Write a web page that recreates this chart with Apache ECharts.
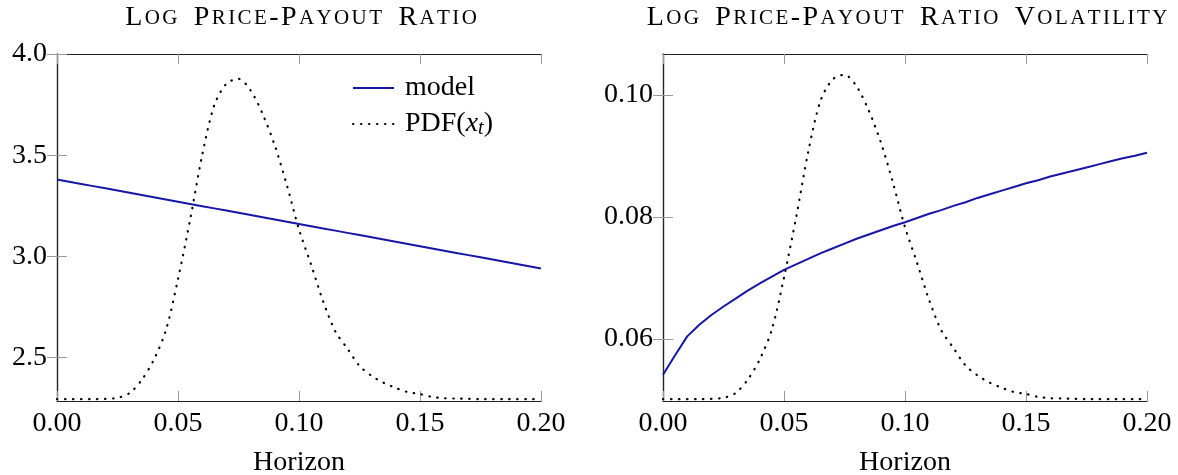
<!DOCTYPE html>
<html lang="en">
<head>
    <meta charset="UTF-8">
    <title>Log Price-Payout Ratio</title>
    <style>
        body { margin: 0; background: #fff; }
        #main { width: 1178px; height: 475px; }
    </style>
    <script src="https://cdn.jsdelivr.net/npm/echarts@6/dist/echarts.min.js"></script>
</head>
<body>
<div id="main"></div>
<script>
    // horizon grid shared by every curve
    var horizon = [0.000, 0.005, 0.010, 0.015, 0.020, 0.025, 0.030, 0.035, 0.040, 0.045,
        0.050, 0.055, 0.060, 0.065, 0.070, 0.075, 0.080, 0.085, 0.090, 0.095,
        0.100, 0.105, 0.110, 0.115, 0.120, 0.125, 0.130, 0.135, 0.140, 0.145,
        0.150, 0.155, 0.160, 0.165, 0.170, 0.175, 0.180, 0.185, 0.190, 0.195, 0.200];

    // log price-payout ratio (model)
    var ratioModel = [3.380, 3.369, 3.358, 3.347, 3.336, 3.325, 3.314, 3.303, 3.292, 3.281,
        3.270, 3.259, 3.248, 3.237, 3.226, 3.215, 3.204, 3.193, 3.182, 3.171,
        3.160, 3.149, 3.138, 3.127, 3.116, 3.105, 3.094, 3.083, 3.072, 3.061,
        3.050, 3.039, 3.028, 3.017, 3.006, 2.995, 2.984, 2.973, 2.962, 2.951, 2.940];

    // volatility of the log price-payout ratio (model)
    var volModel = [0.0541, 0.0573, 0.0604, 0.0623, 0.0639, 0.0653, 0.0666, 0.0679, 0.0691, 0.0702,
        0.0713, 0.0722, 0.0731, 0.0740, 0.0748, 0.0756, 0.0764, 0.0771, 0.0778, 0.0785,
        0.0791, 0.0798, 0.0805, 0.0811, 0.0818, 0.0824, 0.0831, 0.0837, 0.0843, 0.0849,
        0.0855, 0.0860, 0.0866, 0.0871, 0.0876, 0.0881, 0.0886, 0.0891, 0.0896, 0.0900, 0.0905];

    // density of x_t, as a share of its peak
    var pdfShape = [0, 0, 0, 0, 0.001, 0.004, 0.019, 0.060, 0.123, 0.215,
        0.375, 0.560, 0.762, 0.918, 0.985, 1.000, 0.964, 0.890, 0.792, 0.668,
        0.530, 0.420, 0.305, 0.212, 0.158, 0.104, 0.073, 0.051, 0.035, 0.022,
        0.016, 0.007, 0.003, 0.002, 0.001, 0, 0, 0, 0, 0, 0];

    // where the density is drawn on each panel: [floor, peak]
    var pdfLeft = [2.294, 3.877];
    var pdfRight = [0.0501, 0.1033];

    var yTicksLeft = [2.5, 3.0, 3.5, 4.0];
    var yTicksRight = [0.06, 0.08, 0.10];

    var titles = ['Log Price-Payout Ratio', 'Log Price-Payout Ratio Volatility'];

    var FONT = '"Liberation Serif", "DejaVu Serif", serif';
    var BLUE = '#1616a6';

    function pairs(ys) {
        return horizon.map(function (x, i) { return [x, ys[i]]; });
    }
    function pdfPairs(level) {
        return horizon.map(function (x, i) {
            return [x, level[0] + pdfShape[i] * (level[1] - level[0])];
        });
    }
    // small caps: capitals stay big, lower case is set as smaller capitals
    function smallCaps(str) {
        return str.split('').map(function (c) {
            if (c === ' ') return '{w|\u2002}';
            if (c === c.toLowerCase() && c !== c.toUpperCase()) return '{s|' + c.toUpperCase() + '}';
            return '{b|' + c + '}';
        }).join('');
    }

    var lineAxis = {show: true, lineStyle: {color: '#222', width: 1.2}};
    var tickStyle = {show: true, inside: true, length: 10, lineStyle: {color: '#999', width: 1}};
    var labelText = {color: '#000', fontSize: 28, fontFamily: FONT};

    function xAx(grid, top) {
        return {
            type: 'value', gridIndex: grid, position: top ? 'top' : 'bottom',
            min: 0, max: 0.2, interval: 0.05,
            axisLine: lineAxis, axisTick: tickStyle, splitLine: {show: false},
            axisLabel: top ? {show: false} : Object.assign({
                margin: 9,
                formatter: function (v) { return v.toFixed(2); }
            }, labelText),
            name: top ? '' : 'Horizon',
            nameLocation: 'middle', nameGap: 48,
            nameTextStyle: labelText
        };
    }
    function yAx(grid, right, min, max, ticks, digits) {
        return {
            type: 'value', gridIndex: grid, position: right ? 'right' : 'left',
            min: min, max: max,
            axisLine: lineAxis,
            axisTick: Object.assign({customValues: ticks}, tickStyle),
            splitLine: {show: false},
            axisLabel: right ? {show: false} : Object.assign({
                margin: 10, customValues: ticks,
                formatter: function (v) { return v.toFixed(digits); }
            }, labelText)
        };
    }

    var capsRich = {
        b: {fontSize: 28, fontFamily: FONT, fontWeight: 'normal', color: '#000', padding: [0, 1.2, 0, 1.2]},
        s: {fontSize: 21, fontFamily: FONT, fontWeight: 'normal', color: '#000', padding: [0, 1.2, 0, 1.2]},
        w: {fontSize: 28, fontFamily: FONT, fontWeight: 'normal', color: '#000'}
    };

    var chart = echarts.init(document.getElementById('main'));
    var option = {
        animation: false,
        backgroundColor: '#fff',
        title: [
            {
                text: smallCaps(titles[0]),
                left: 301, top: 4, textAlign: 'center', padding: 0,
                textStyle: {fontWeight: 'normal', rich: capsRich}
            },
            {
                text: smallCaps(titles[1]),
                left: 907, top: 4, textAlign: 'center', padding: 0,
                textStyle: {fontWeight: 'normal', rich: capsRich}
            }
        ],
        legend: {
            data: ['model', 'PDF'],
            orient: 'vertical',
            left: 352, top: 73,
            itemWidth: 41, itemHeight: 14, itemGap: 6,
            padding: 0,
            itemStyle: {opacity: 0},
            textStyle: {
                color: '#000', fontSize: 28, fontFamily: FONT, lineHeight: 30,
                padding: [0, 0, 0, 6],
                rich: {
                    n: {fontSize: 28, fontFamily: FONT, color: '#000', lineHeight: 30},
                    i: {fontSize: 28, fontFamily: FONT, fontStyle: 'italic', color: '#000', lineHeight: 30},
                    t: {fontSize: 20, fontFamily: FONT, fontStyle: 'italic', color: '#000', lineHeight: 18, verticalAlign: 'bottom'}
                }
            },
            formatter: function (name) {
                return name === 'PDF' ? '{n|PDF(}{i|x}{t|t}{n|)}' : name;
            }
        },
        grid: [
            {left: 57, right: 637, top: 54, bottom: 74, outerBoundsMode: 'none'},
            {left: 663, right: 31, top: 54, bottom: 74, outerBoundsMode: 'none'}
        ],
        xAxis: [xAx(0, false), xAx(0, true), xAx(1, false), xAx(1, true)],
        yAxis: [
            yAx(0, false, 2.285, 4.0, yTicksLeft, 1),
            yAx(0, true, 2.285, 4.0, yTicksLeft, 1),
            yAx(1, false, 0.0498, 0.1067, yTicksRight, 2),
            yAx(1, true, 0.0498, 0.1067, yTicksRight, 2)
        ],
        series: [
            {
                name: 'model', type: 'line', xAxisIndex: 0, yAxisIndex: 0,
                data: pairs(ratioModel), symbol: 'none',
                lineStyle: {color: BLUE, width: 2}, itemStyle: {color: BLUE}
            },
            {
                name: 'PDF', type: 'line', xAxisIndex: 0, yAxisIndex: 0,
                data: pdfPairs(pdfLeft), symbol: 'none', smooth: 0.3,
                lineStyle: {color: '#000', width: 2.2, type: [0.5, 7.5], cap: 'round'},
                itemStyle: {color: '#000'}
            },
            {
                name: 'model', type: 'line', xAxisIndex: 2, yAxisIndex: 2,
                data: pairs(volModel), symbol: 'none',
                lineStyle: {color: BLUE, width: 2}, itemStyle: {color: BLUE}
            },
            {
                name: 'PDF', type: 'line', xAxisIndex: 2, yAxisIndex: 2,
                data: pdfPairs(pdfRight), symbol: 'none', smooth: 0.3,
                lineStyle: {color: '#000', width: 2.2, type: [0.5, 7.5], cap: 'round'},
                itemStyle: {color: '#000'}
            }
        ]
    };
    chart.setOption(option);
</script>
</body>
</html>
